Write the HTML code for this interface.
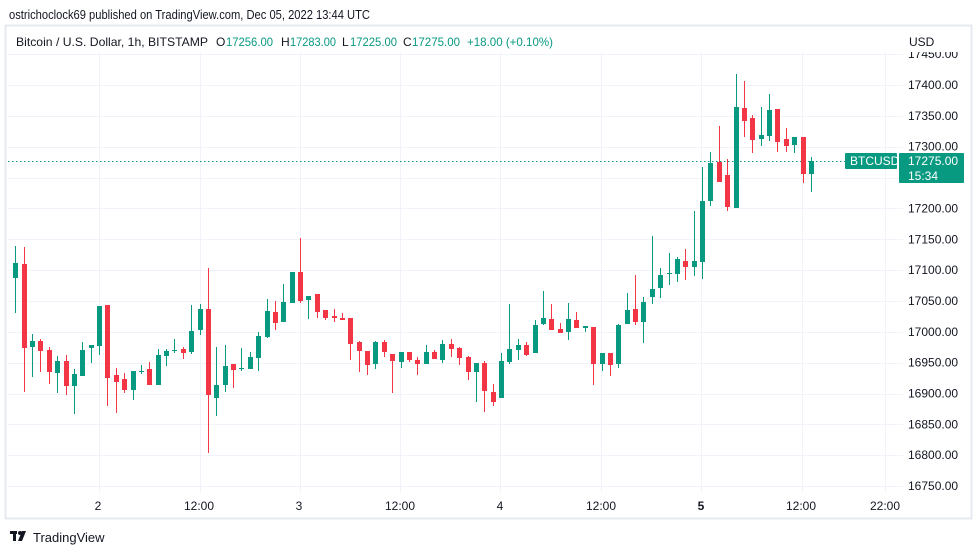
<!DOCTYPE html>
<html><head><meta charset="utf-8"><style>
html,body{margin:0;padding:0;background:#fff;width:979px;height:555px;overflow:hidden}
svg{display:block;font-family:"Liberation Sans",sans-serif}
</style></head><body>
<svg id="s" width="979" height="555" viewBox="0 0 979 555" xmlns="http://www.w3.org/2000/svg">
<rect x="0" y="0" width="979" height="555" fill="#fff"/>
<text x="9" y="19" font-size="12.5" fill="#131722" textLength="361" lengthAdjust="spacingAndGlyphs">ostrichoclock69 published on TradingView.com, Dec 05, 2022 13:44 UTC</text>
<rect x="5.5" y="25.5" width="966" height="493" fill="none" stroke="#e6e9f0" stroke-width="2"/>
<g id="grid" stroke="#f0f3fa" stroke-width="1"></g>
<line x1="8" y1="161.5" x2="845" y2="161.5" stroke="#089981" stroke-width="1" stroke-dasharray="1.5,2.5"/>
<g id="c"></g>
<g font-size="12">
<text x="16" y="46" fill="#131722" textLength="192" lengthAdjust="spacingAndGlyphs">Bitcoin / U.S. Dollar, 1h, BITSTAMP</text>
<text x="216" y="46" fill="#131722">O</text><text x="226" y="46" fill="#089981" textLength="47" lengthAdjust="spacingAndGlyphs">17256.00</text>
<text x="281" y="46" fill="#131722">H</text><text x="290" y="46" fill="#089981" textLength="46" lengthAdjust="spacingAndGlyphs">17283.00</text>
<text x="342" y="46" fill="#131722">L</text><text x="350" y="46" fill="#089981" textLength="47" lengthAdjust="spacingAndGlyphs">17225.00</text>
<text x="403" y="46" fill="#131722">C</text><text x="412" y="46" fill="#089981" textLength="48" lengthAdjust="spacingAndGlyphs">17275.00</text>
<text x="467" y="46" fill="#089981" textLength="86" lengthAdjust="spacingAndGlyphs">+18.00 (+0.10%)</text>
</g>
<g id="ax" font-size="12" fill="#131722"></g>
<rect x="909" y="34" width="50" height="18" fill="#fff"/>
<text x="909" y="46" font-size="12" fill="#131722">USD</text>
<rect x="845" y="153" width="52" height="16" rx="1" fill="#089981"/>
<text x="850" y="165" font-size="12" fill="#fff">BTCUSD</text>
<rect x="899" y="153" width="65" height="30" rx="1" fill="#089981"/>
<text x="908" y="165" font-size="12" fill="#fff">17275.00</text>
<text x="908" y="180" font-size="12" fill="#fff">15:34</text>
<g font-size="12" fill="#131722" text-anchor="middle">
<text x="98" y="510">2</text><text x="199" y="510">12:00</text><text x="299" y="510">3</text><text x="400" y="510">12:00</text><text x="500" y="510">4</text><text x="601" y="510">12:00</text><text x="701" y="510" font-weight="bold">5</text><text x="801" y="510">12:00</text><text x="885" y="510">22:00</text>
</g>
<g transform="translate(10,531)" fill="#131722"><rect x="0" y="0" width="7" height="3"/><rect x="3" y="0" width="3" height="10"/><circle cx="10" cy="2" r="2"/><polygon points="12,0 16,0 12,10 8,10"/></g>
<text x="33" y="542" font-size="13" fill="#131722">TradingView</text>
</svg>
<script>
var NS="http://www.w3.org/2000/svg";
function el(p,t,a,txt){var e=document.createElementNS(NS,t);for(var k in a)e.setAttribute(k,a[k]);if(txt)e.textContent=txt;p.appendChild(e);return e;}
var g=document.getElementById('grid'),ax=document.getElementById('ax');
for(var p=16750;p<=17450;p+=50){var y=85+(17400-p)*0.617;el(g,'line',{x1:8,x2:903,y1:Math.round(y)+0.5,y2:Math.round(y)+0.5});
el(ax,'text',{x:908,y:y+4},p.toFixed(2));}
[99,200,300,400,500,601,701,802,885].forEach(function(x){el(g,'line',{x1:x+0.5,x2:x+0.5,y1:52,y2:492});});
var d="g 263 278 246 313|r 264 348 247 392|g 341 347 334 377|r 341 351 339 372|r 350 372 347 384|g 361 373 356 393|r 361 386 355 395|g 374 386 369 414|g 350 376 342 376|g 345 348 345 363|g 306 346 306 355|r 305 378 305 406|r 375 382 368 413|r 379 390 373 393|g 371 390 371 400|g 371 372 365 374|r 369 385 362 385|g 355 385 349 385|g 351 356 349 366|g 350 351 339 353|r 349 353 347 359|g 331 352 305 354|g 309 330 304 335|r 309 395 268 453|g 385 398 347 416|g 366 385 345 392|r 364 370 364 388|g 368 369 348 371|g 357 369 352 369|g 336 358 332 371|g 311 337 299 338|r 312 323 301 330|g 302 322 284 322|g 272 303 272 303|r 272 301 238 303|g 296 300 296 319|r 294 312 294 318|r 310 318 310 320|r 316 318 309 322|r 318 320 313 320|r 318 344 318 360|r 342 351 341 372|r 351 365 351 375|g 342 364 341 369|r 342 352 340 357|r 354 361 354 393|g 352 362 352 368|r 352 360 352 362|r 360 364 357 375|g 352 364 345 364|r 352 359 350 359|g 344 360 340 363|r 344 349 339 357|r 348 358 347 365|r 357 372 356 380|g 363 372 363 402|r 363 391 361 412|r 392 402 384 406|g 361 398 353 398|g 349 362 304 364|g 345 350 339 360|r 345 355 342 356|g 325 353 320 353|g 318 324 291 325|r 319 330 304 330|r 329 333 323 333|g 319 332 303 340|r 320 328 312 328|g 326 328 326 332|r 327 364 327 385|g 353 364 353 371|r 353 365 353 376|g 325 364 324 368|g 310 324 293 324|r 309 322 275 325|g 302 322 297 343|g 289 297 236 304|g 275 288 268 298|g 273 274 253 285|g 259 274 257 282|r 261 267 249 280|g 261 267 211 276|g 201 262 167 279|g 163 201 152 206|r 162 182 126 182|r 175 207 159 211|g 107 208 74 208|r 108 121 81 137|r 118 140 115 153|g 135 139 107 146|g 110 136 94 141|r 109 142 109 152|r 139 146 128 152|g 137 145 137 153|r 137 174 137 183|g 161 174 157 192".split('|');
var c=document.getElementById('c');
d.forEach(function(s,i){var a=s.split(' ');var col=a[0]=='g'?'#089981':'#f23645';var x=Math.round(15.3+i*8.375);
var t=+a[1],b=+a[2],h=+a[3],l=+a[4];
el(c,'rect',{x:x,y:h,width:1,height:Math.max(1,l-h),fill:col,'shape-rendering':'crispEdges'});
el(c,'rect',{x:x-2,y:t,width:5,height:Math.max(1,b-t),fill:col,'shape-rendering':'crispEdges'});});
</script>
</body></html>
